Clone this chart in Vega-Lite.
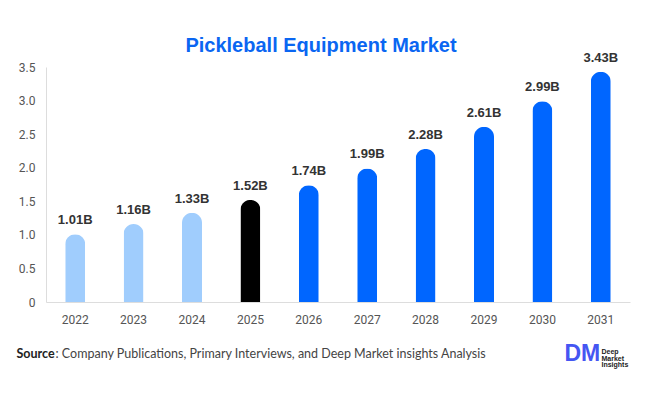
{
  "$schema": "https://vega.github.io/schema/vega-lite/v6.json",
  "width": 584,
  "height": 235,
  "autosize": {"type": "none"},
  "padding": {"left": 46, "top": 67, "right": 16, "bottom": 92},
  "background": "#ffffff",
  "title": {
    "text": "Pickleball Equipment Market",
    "font": "Liberation Sans",
    "fontSize": 20,
    "fontWeight": "bold",
    "color": "#0a66f2",
    "anchor": "middle",
    "dx": -17,
    "offset": -4
  },
  "config": {
    "view": {"stroke": null},
    "axis": {"grid": false, "ticks": false, "domainColor": "#dddddd", "labelFont": "Roboto", "labelColor": "#555555", "labelFontSize": 12}
  },
  "data": {
    "values": [
      {"year": "2022", "value": 1.01, "period": "historical"},
      {"year": "2023", "value": 1.16, "period": "historical"},
      {"year": "2024", "value": 1.33, "period": "historical"},
      {"year": "2025", "value": 1.52, "period": "current"},
      {"year": "2026", "value": 1.74, "period": "forecast"},
      {"year": "2027", "value": 1.99, "period": "forecast"},
      {"year": "2028", "value": 2.28, "period": "forecast"},
      {"year": "2029", "value": 2.61, "period": "forecast"},
      {"year": "2030", "value": 2.99, "period": "forecast"},
      {"year": "2031", "value": 3.43, "period": "forecast"}
    ]
  },
  "resolve": {"axis": {"x": "independent", "y": "independent"}},
  "layer": [
    {
      "mark": {"type": "bar", "width": 20, "cornerRadiusEnd": 10},
      "encoding": {
        "x": {
          "field": "year",
          "type": "ordinal",
          "scale": {"paddingInner": 0, "paddingOuter": 0},
          "axis": {
            "orient": "bottom",
            "labelAngle": 0,
            "labelPadding": 12,
            "title": ": Company Publications, Primary Interviews, and Deep Market insights Analysis",
            "titleFont": "Lato",
            "titleFontSize": 12.5,
            "titleFontWeight": "normal",
            "titleColor": "#444444",
            "titleAlign": "left",
            "titleBaseline": "middle",
            "titleAnchor": "start",
            "titleX": 9,
            "titleY": 51
          }
        },
        "y": {
          "field": "value",
          "type": "quantitative",
          "scale": {"domain": [0, 3.5], "nice": false},
          "axis": {
            "orient": "left",
            "values": [0, 0.5, 1, 1.5, 2, 2.5, 3, 3.5],
            "labelExpr": "datum.value == 0 ? '0' : format(datum.value, '.1f')",
            "labelPadding": 11,
            "title": "Source",
            "titleFont": "Lato",
            "titleFontSize": 12.5,
            "titleFontWeight": "bold",
            "titleColor": "#222222",
            "titleAngle": 0,
            "titleAlign": "left",
            "titleBaseline": "middle",
            "titleX": -30,
            "titleY": 286
          }
        },
        "color": {
          "field": "period",
          "type": "nominal",
          "scale": {"domain": ["historical", "current", "forecast"], "range": ["#a0cdfd", "#000000", "#0066ff"]},
          "legend": null
        }
      }
    },
    {
      "transform": [{"calculate": "format(datum.value, '.2f') + 'B'", "as": "label"}],
      "mark": {"type": "text", "baseline": "alphabetic", "dy": -10, "font": "Liberation Sans", "fontSize": 13, "fontWeight": "bold", "color": "#333333"},
      "encoding": {
        "x": {
          "field": "year",
          "type": "ordinal",
          "axis": {
            "orient": "top",
            "labels": false,
            "domain": false,
            "title": "DM",
            "titleFont": "Liberation Sans",
            "titleFontSize": 23,
            "titleFontWeight": "bold",
            "titleColor": "#4556f2",
            "titleAlign": "left",
            "titleBaseline": "middle",
            "titleAnchor": "start",
            "titleX": 518,
            "titleY": 286
          }
        },
        "y": {
          "field": "value",
          "type": "quantitative",
          "axis": {
            "orient": "right",
            "labels": false,
            "domain": false,
            "title": ["Deep", "Market", "Insights"],
            "titleFont": "Liberation Sans",
            "titleFontSize": 7,
            "titleFontWeight": "bold",
            "titleColor": "#222222",
            "titleAngle": 0,
            "titleAlign": "left",
            "titleBaseline": "middle",
            "titleLineHeight": 6.5,
            "titleX": -29,
            "titleY": 284.5
          }
        },
        "text": {"field": "label"}
      }
    }
  ]
}
